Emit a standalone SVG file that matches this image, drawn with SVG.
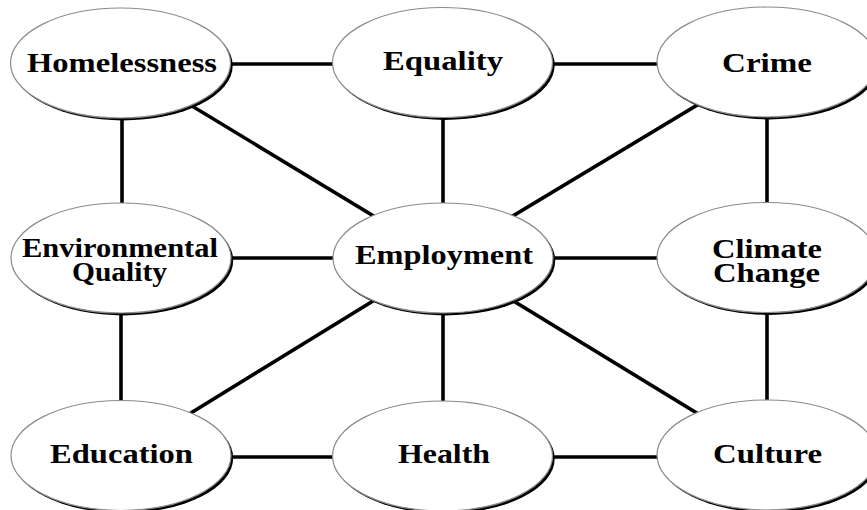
<svg xmlns="http://www.w3.org/2000/svg" width="867" height="510" viewBox="0 0 867 510">
  <style>
    .edge { stroke: #000; stroke-width: 3.6; fill: none; }
    .shade { fill: #000; }
    .face { fill: #fff; stroke: #8a8a8a; stroke-width: 1.2; }
    .label { font-family: "Liberation Serif", "Times New Roman", serif; font-weight: bold; font-size: 28px; fill: #000; }
  </style>
  <defs>
    <!-- node body: dark offset crescent under a white face -->
    <g id="bubble">
      <ellipse class="shade" cx="2.2" cy="2.4" rx="110" ry="55"/>
      <ellipse class="face" cx="0" cy="0" rx="110" ry="55"/>
    </g>
  </defs>
  <rect width="867" height="510" fill="#fff"/>

  <!-- connectors run centre to centre; the nodes cover the ends -->
  <g id="connectors">
    <line class="edge" x1="121" y1="64" x2="443" y2="64"/>
    <line class="edge" x1="443" y1="64" x2="767" y2="64"/>
    <line class="edge" x1="122" y1="63" x2="122" y2="258"/>
    <line class="edge" x1="443" y1="63" x2="443" y2="258"/>
    <line class="edge" x1="767" y1="63" x2="767" y2="258"/>
    <line class="edge" x1="121" y1="258" x2="767" y2="258"/>
    <line class="edge" x1="121" y1="258" x2="121" y2="456"/>
    <line class="edge" x1="443" y1="258" x2="443" y2="456"/>
    <line class="edge" x1="767" y1="258" x2="767" y2="456"/>
    <line class="edge" x1="121" y1="457" x2="767" y2="457"/>
    <line class="edge" x1="121" y1="63" x2="443" y2="258"/>
    <line class="edge" x1="767" y1="63" x2="443" y2="258"/>
    <line class="edge" x1="443" y1="258" x2="121" y2="456"/>
    <line class="edge" x1="443" y1="258" x2="767" y2="456"/>
  </g>

  <g id="node-homelessness">
    <use href="#bubble" x="120.5" y="63"/>
    <text class="label" x="27" y="72" textLength="190" lengthAdjust="spacingAndGlyphs">Homelessness</text>
  </g>
  <g id="node-equality">
    <use href="#bubble" x="442.5" y="62.5"/>
    <text class="label" x="383" y="70" textLength="120" lengthAdjust="spacingAndGlyphs">Equality</text>
  </g>
  <g id="node-crime">
    <use href="#bubble" x="767" y="62"/>
    <text class="label" x="722" y="72" textLength="90" lengthAdjust="spacingAndGlyphs">Crime</text>
  </g>
  <g id="node-environmental-quality">
    <use href="#bubble" x="121" y="258"/>
    <text class="label" x="22" y="257" textLength="196" lengthAdjust="spacingAndGlyphs">Environmental</text>
    <text class="label" x="72" y="281" textLength="95" lengthAdjust="spacingAndGlyphs">Quality</text>
  </g>
  <g id="node-employment">
    <use href="#bubble" x="443" y="258"/>
    <text class="label" x="355" y="264" textLength="178" lengthAdjust="spacingAndGlyphs">Employment</text>
  </g>
  <g id="node-climate-change">
    <use href="#bubble" x="767" y="257.5"/>
    <text class="label" x="712" y="258" textLength="110" lengthAdjust="spacingAndGlyphs">Climate</text>
    <text class="label" x="713" y="282" textLength="107" lengthAdjust="spacingAndGlyphs">Change</text>
  </g>
  <g id="node-education">
    <use href="#bubble" x="121" y="455.5"/>
    <text class="label" x="50" y="463" textLength="143" lengthAdjust="spacingAndGlyphs">Education</text>
  </g>
  <g id="node-health">
    <use href="#bubble" x="442.5" y="456"/>
    <text class="label" x="398" y="463" textLength="92" lengthAdjust="spacingAndGlyphs">Health</text>
  </g>
  <g id="node-culture">
    <use href="#bubble" x="767" y="455"/>
    <text class="label" x="713" y="463" textLength="109" lengthAdjust="spacingAndGlyphs">Culture</text>
  </g>
</svg>
